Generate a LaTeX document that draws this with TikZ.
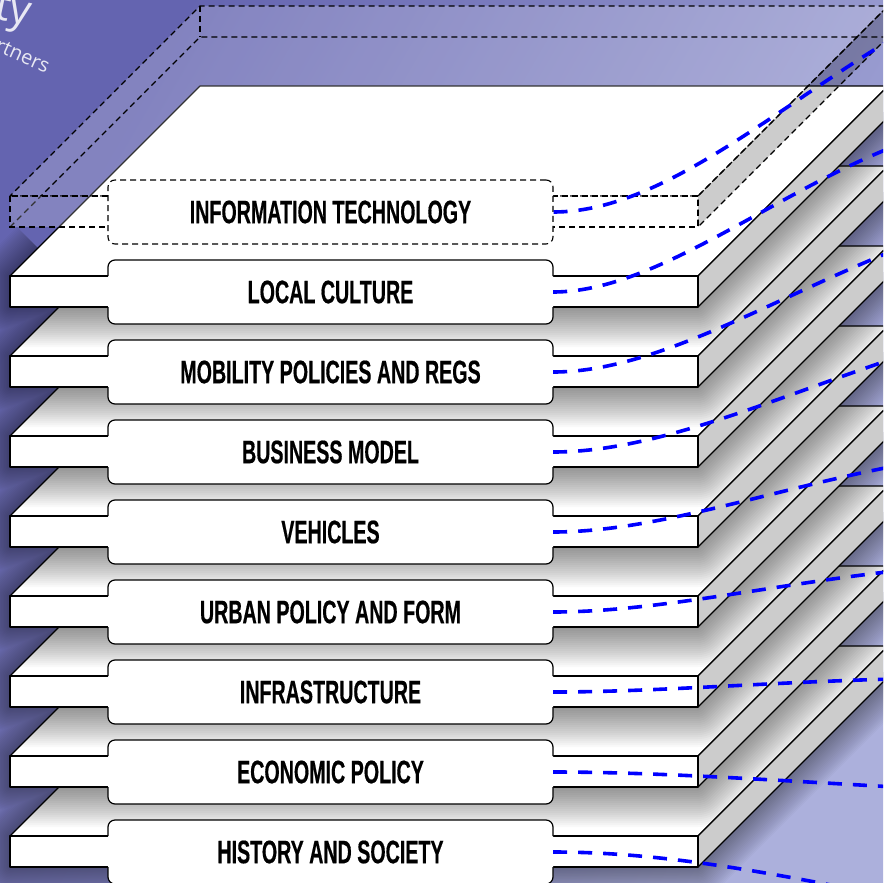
\documentclass[tikz,border=0pt]{standalone}
\usepackage{fontspec}
\usepackage{xcolor}
\usepackage{tikz}

\newfontfamily\layerfont{Liberation Sans}[FakeStretch=0.605, BoldFeatures={FakeBold=0.4}]
\newfontfamily\titlefont{Open Sans}

\definecolor{bgdark}{RGB}{100,100,176}
\definecolor{bglight}{RGB}{172,176,220}
\definecolor{sidegray}{RGB}{204,204,204}
\definecolor{linkblue}{RGB}{0,0,255}

\tikzset{
  slabline/.style={draw=black, line width=1.2pt, line join=round},
  ghostline/.style={draw=black, line width=1.1pt, dash pattern=on 6pt off 4pt},
  layerlabel/.style={fill=white, rounded corners=7pt, minimum width=445pt, minimum height=64pt,
    inner sep=0pt, font=\layerfont\bfseries\fontsize{32.5}{34}\selectfont},
  link/.style={draw=linkblue, line width=3.6pt, dash pattern=on 14pt off 11pt},
}

% top face, side face and front face of one layer (#1 = top of front face)
\newcommand{\slabbody}[1]{%
  \draw[slabline, fill=white] (10,#1) -- (698,#1) -- (888,#1-190) -- (200,#1-190) -- cycle;
  \ifnum#1>300
    \begin{scope}
      \clip (10,#1) -- (698,#1) -- (888,#1-190) -- (200,#1-190) -- cycle;
      \foreach \k in {1,...,20}
        \draw[line width=\k*4pt, black, opacity=0.025, line join=round] (0,#1-49) -- (698,#1-49) -- (900,#1-251);
    \end{scope}
  \fi
  \draw[slabline, fill=sidegray] (698,#1) -- (888,#1-190) -- (888,#1-159) -- (698,#1+31) -- cycle;
  \draw[slabline, fill=white] (10,#1) rectangle (698,#1+31);
}
% outline of the label tab above and below the front face
\newcommand{\slabrim}[1]{%
  \draw[slabline, rounded corners=7pt] (108,#1) |- (331,#1-16) -| (553,#1);
  \draw[slabline, rounded corners=7pt] (108,#1+31) |- (331,#1+48) -| (553,#1+31);
}

\begin{document}
\begin{tikzpicture}[x=1pt, y=-1pt]
\useasboundingbox (0,0) rectangle (883,883);
\clip (0,0) rectangle (883,883);
\shade[top color=bgdark, bottom color=bglight, shading angle=60] (0,0) rectangle (883,883);

% title, cut by the left edge
\node[anchor=base east, rotate=-12, text=white!85!bgdark, font=\titlefont\fontsize{42}{42}\selectfont] (titletail) at (32,27) {ty};
\node[anchor=base east, rotate=-24, text=white!85!bgdark, font=\titlefont\fontsize{20}{20}\selectfont] (subtail) at (49,75) {rtners};

% shadow of the stack
\foreach \k in {1,...,20}
  \draw[line width=\k*3pt, black, opacity=0.018, line join=round]
    (38,248) -- (10,276) -- (10,307) -- (698,307) -- (888,117)
    \foreach \y in {356,436,...,836} {(60,\y-50) -- (10,\y) -- (10,\y+31) -- (698,\y+31) -- (888,\y-159)};

% layers, bottom up
\slabbody{836}
\node[layerlabel] (history) at (330.5,852) {HISTORY AND SOCIETY};
\slabrim{836}
\slabbody{756}
\node[layerlabel] (economy) at (330.5,772) {ECONOMIC POLICY};
\slabrim{756}
\slabbody{676}
\node[layerlabel] (infra) at (330.5,692) {INFRASTRUCTURE};
\slabrim{676}
\slabbody{596}
\node[layerlabel] (urban) at (330.5,612) {URBAN POLICY AND FORM};
\slabrim{596}
\slabbody{516}
\node[layerlabel] (vehicles) at (330.5,532) {VEHICLES};
\slabrim{516}
\slabbody{436}
\node[layerlabel] (business) at (330.5,452) {BUSINESS MODEL};
\slabrim{436}
\slabbody{356}
\node[layerlabel] (mobility) at (330.5,372) {MOBILITY POLICIES AND REGS};
\slabrim{356}
\slabbody{276}
\node[layerlabel] (culture) at (330.5,292) {LOCAL CULTURE};
\slabrim{276}

% see-through layer on top
\draw[ghostline, fill=white, fill opacity=0.2] (10,196) -- (698,196) -- (888,6) -- (200,6) -- cycle;
\draw[ghostline, fill=black, fill opacity=0.2] (698,196) -- (888,6) -- (888,37) -- (698,227) -- cycle;
\draw[ghostline] (10,227) -- (200,37) -- (888,37);
\draw[ghostline] (200,6) -- (200,37);
\draw[ghostline, fill=white, fill opacity=0.2] (10,196) rectangle (698,227);
\node[layerlabel, ghostline] (itlayer) at (330.5,212) {INFORMATION TECHNOLOGY};

% links leaving the picture
\coordinate (itend) at (895,37);
\coordinate (cultureend) at (895,146);
\coordinate (mobilityend) at (895,250);
\coordinate (businessend) at (895,358);
\coordinate (vehiclesend) at (895,466);
\coordinate (urbanend) at (895,571);
\coordinate (infraend) at (895,679);
\coordinate (economyend) at (895,787);
\coordinate (historyend) at (895,898);

\draw[link] (itlayer.east) .. controls (660,212) and (770,112) .. (itend);
\draw[link] (culture.east) .. controls (655,292) and (770,195) .. (cultureend);
\draw[link] (mobility.east) .. controls (655,372) and (770,300) .. (mobilityend);
\draw[link] (business.east) .. controls (655,452) and (770,400) .. (businessend);
\draw[link] (vehicles.east) .. controls (655,532) and (770,490) .. (vehiclesend);
\draw[link] (urban.east) .. controls (655,612) and (770,585) .. (urbanend);
\draw[link] (infra.east) .. controls (655,692) and (770,682) .. (infraend);
\draw[link] (economy.east) .. controls (655,772) and (770,780) .. (economyend);
\draw[link] (history.east) .. controls (655,852) and (760,870) .. (historyend);
\end{tikzpicture}
\end{document}
